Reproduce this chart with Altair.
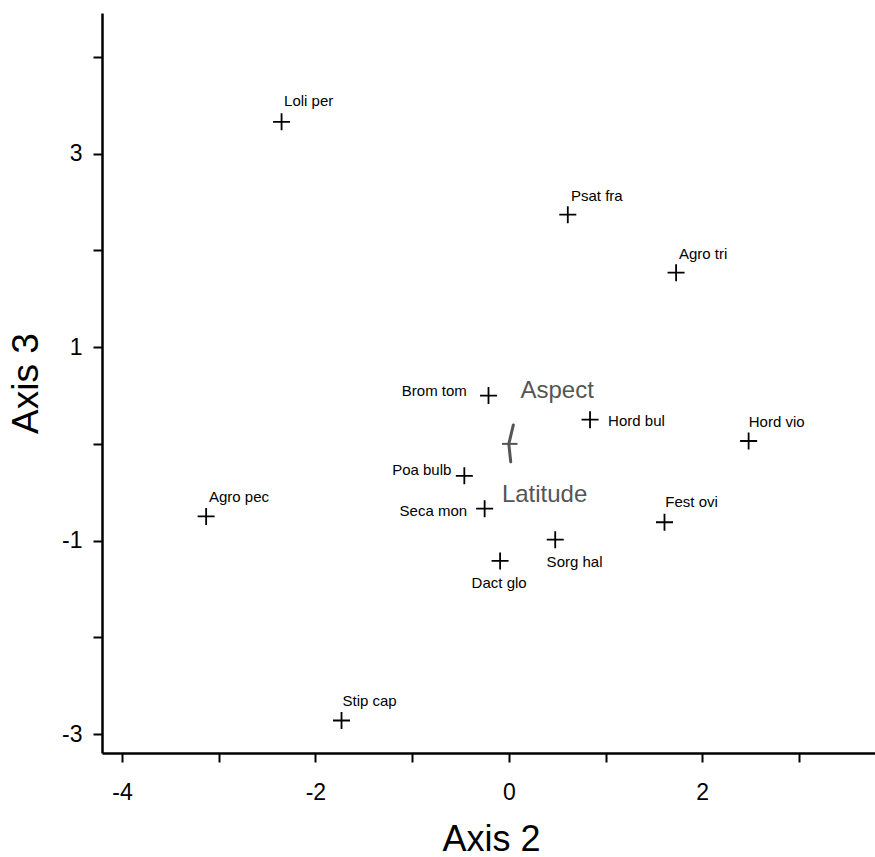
import altair as alt
import pandas as pd

# Species scores (Axis 2, Axis 3)
species = ["Loli per", "Psat fra", "Agro tri", "Brom tom", "Hord bul", "Hord vio",
           "Poa bulb", "Agro pec", "Seca mon", "Fest ovi", "Sorg hal", "Dact glo", "Stip cap"]
sp_x = [-2.35, 0.61, 1.73, -0.21, 0.84, 2.48, -0.46, -3.13, -0.25, 1.61, 0.48, -0.09, -1.73]
sp_y = [3.33, 2.37, 1.77, 0.50, 0.25, 0.03, -0.33, -0.75, -0.67, -0.81, -0.99, -1.21, -2.86]
# Label anchor positions (data units)
lab_x = [-2.07, 0.91, 2.01, -0.77, 1.32, 2.77, -0.90, -2.79, -0.78, 1.89, 0.68, -0.10, -1.44]
lab_y = [3.55, 2.56, 1.96, 0.55, 0.24, 0.23, -0.27, -0.55, -0.69, -0.60, -1.22, -1.44, -2.66]

# Environmental vectors
vec_names = ["Aspect", "Latitude"]
vec_x = [0.047, 0.02]
vec_y = [0.196, -0.186]
vec_lab_x = [0.50, 0.37]
vec_lab_y = [0.55, -0.53]
# collapsed arrow heads
head_x1 = [-0.07]
head_x2 = [0.09]
head_y = [0.0]

x_ticks = [-4, -3, -2, -1, 0, 1, 2, 3]
y_ticks = [-3, -2, -1, 0, 1, 2, 3, 4]
x_dom = [-4.207, 3.787]
y_dom = [-3.196, 4.455]

FONT = "Liberation Sans"
GREY = "#555555"

sp = pd.DataFrame({"name": species, "x": sp_x, "y": sp_y, "lx": lab_x, "ly": lab_y})
vec = pd.DataFrame({"name": vec_names, "x0": [0.0, 0.0], "y0": [0.0, 0.0],
                    "x": vec_x, "y": vec_y, "lx": vec_lab_x, "ly": vec_lab_y})
head = pd.DataFrame({"x1": head_x1, "x2": head_x2, "y": head_y})

xs = alt.Scale(domain=x_dom, nice=False, zero=False)
ys = alt.Scale(domain=y_dom, nice=False, zero=False)

xaxis = alt.Axis(values=x_ticks, labelExpr="datum.value % 2 == 0 ? '' + datum.value : ''",
                 grid=False, domainColor="black", domainWidth=2.5, tickColor="black",
                 tickWidth=2, tickSize=9, labelFontSize=23, labelFont=FONT, labelColor="black",
                 labelPadding=19, title="Axis 2", titleFont=FONT, titleFontSize=36,
                 titleFontWeight="normal", titleColor="black", titleX=389, titleY=97,
                 titleBaseline="alphabetic", titleAlign="center", labelFlush=False)
yaxis = alt.Axis(values=y_ticks, labelExpr="abs(datum.value) % 2 == 1 ? '' + datum.value : ''",
                 grid=False, domainColor="black", domainWidth=2.5, tickColor="black",
                 tickWidth=2, tickSize=9, labelFontSize=23, labelFont=FONT, labelColor="black",
                 labelPadding=11, title="Axis 3", titleFont=FONT, titleFontSize=37,
                 titleFontWeight="normal", titleColor="black", titleX=-65, titleY=370,
                 titleAngle=270, titleBaseline="alphabetic", titleAlign="center", labelFlush=False)

points = alt.Chart(sp).mark_point(shape="M-1,0L1,0M0,-1L0,1", size=289, filled=False,
                                  stroke="black", strokeWidth=1.8, opacity=1).encode(
    x=alt.X("x:Q", scale=xs, axis=xaxis),
    y=alt.Y("y:Q", scale=ys, axis=yaxis),
)

labels = alt.Chart(sp).mark_text(font=FONT, fontSize=15, color="black",
                                 align="center", baseline="middle").encode(
    x=alt.X("lx:Q", scale=xs), y=alt.Y("ly:Q", scale=ys), text="name:N")

arrows = alt.Chart(vec).mark_rule(color=GREY, strokeWidth=3, strokeCap="round").encode(
    x=alt.X("x0:Q", scale=xs), y=alt.Y("y0:Q", scale=ys), x2="x:Q", y2="y:Q")

heads = alt.Chart(head).mark_rule(color=GREY, strokeWidth=2).encode(
    x=alt.X("x1:Q", scale=xs), x2="x2:Q", y=alt.Y("y:Q", scale=ys))

vlabels = alt.Chart(vec).mark_text(font=FONT, fontSize=24, color=GREY,
                                   align="center", baseline="middle").encode(
    x=alt.X("lx:Q", scale=xs), y=alt.Y("ly:Q", scale=ys), text="name:N")

chart = alt.layer(points, labels, arrows, heads, vlabels).properties(
    width=773, height=740,
    background="white",
    autosize=alt.AutoSizeParams(type="none"),
    padding={"left": 102, "top": 13, "right": 0, "bottom": 104},
).configure_view(stroke=None)

chart.save("out.html", embed_options={"renderer": "svg", "actions": False})
